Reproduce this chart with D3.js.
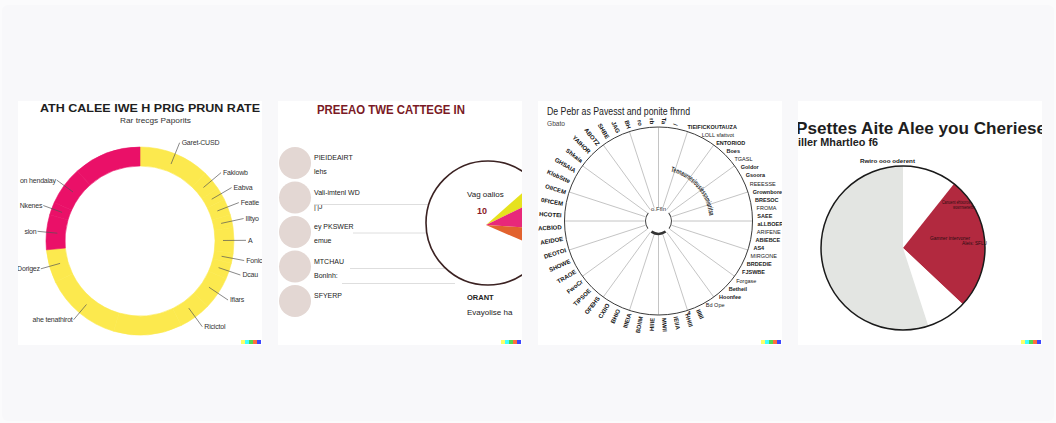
<!DOCTYPE html>
<html><head><meta charset="utf-8">
<script src="https://cdn.jsdelivr.net/npm/d3@7"></script>
<style>
html,body{margin:0;padding:0;background:#fbfbfc;}
svg{display:block;font-family:"Liberation Sans",Arial,sans-serif;}
</style></head><body>
<svg id="chart" width="1056" height="423"></svg>
<script>
// ---- Card 1: ring chart ----
const ringTitle = "ATH CALEE IWE H PRIG PRUN RATE";
const ringSubtitle = "Rar trecgs Paporits";
const ringLabels = ["Garet-CUSD","Fakiowb","Eabva","Featie","Illtyo","A","Fonic","Dcau","Ifiars","Ricictol","","ahe tenathirot","Dorigez","sion","Nkenes","on hendaiay",""];
const ringValues = [12.2,3.3,2.2,2.8,2.2,4.4,1.7,2.8,5.6,5.6,11.7,13.3,5.7,6.0,2.2,6.7,11.6];
const ringGroups = ["Orvan","Orvan","Orvan","Orvan","Orvan","Orvan","Orvan","Orvan","Orvan","Orvan","Orvan","Orvan","Orvan","Haeli","Haeli","Haeli","Haeli"];
const ringGroupNames = ["Haeli","Orvan"];

// ---- Card 2: category list with wedge callout ----
const listTitle = "PREEAO TWE CATTEGE IN";
const listNames = ["PIEIDEAIRT","Vali-imtenl WD","ey PKSWER","MTCHAU","SFYERP"];
const listNotes = ["lehs","|'|J","emue","Bonlnh:",""];
const wedgeNames = ["Vaga","Pinka","Oranta"];
const wedgeValues = [4.3, 8.2, 5.5];
const calloutName = "Vag oalios";
const calloutValue = "10";
const footName = "ORANT";
const footNote = "Evayolise  ha";

// ---- Card 3: radial chart ----
const radialTitle = "De Pebr as Pavesst and ponite fhrnd";
const radialSubtitle = "Gbato";
const radialHub = "o.Ffln";
const radialArcText = "Tennaurnesiousiessnmioritsa";
// horizontal labels down the right-hand side
const sideLabels = ["TIEIFICKOUTAUZA","LOLL sfattvot","ENTORIOD","Boes","TGASL","Goldor","Gsoora","REEESSE",
  "Grownbore","BRESOC","FROMA","SAEE","aLLBOER","ARIFENE","ABIEBCE","AS4","MIRGONE","BRDEDIE",
  "FJSWBE","Forgase","Betheil","Hoonfee","Bd Ope","4"];
// rotated labels round the rest of the rim
const rimLabels = ["IIIIIl","HHIII","IEIIA","MWII","HIIIE","BDIIM","IIIEIA","BHIO","CXIIO","OFEHS",
  "TIPSOE","FwoCr","TRAOE","SHOWE","DEOTOI","AEIDOE","ACBIOD","HCOTEI","0FtCEM","OIICEM",
  "KlobStte","GHSAIA","Shkaia","YAIHOR","ABOTZ","SHBE","JAG","BH","ro","rb","Ta","/"];

// ---- Card 4: pie chart ----
const pieTitle = "Psettes Aite Alee you Cheriese";
const pieSubtitle = "iller Mhartleo f6";
const pieHeader = "Rwiro ooo   oderent";
const pieNames = ["Rwiro","Canuent","Gamner","Mhartleo"];
const pieValues = [10.7, 26.3, 8.0, 55.0];
const pieNotesA = ["Canuent ehtxoros","wosrrnsenerbu"];
const pieNotesB = ["Gamner intervoner","Aleis: SFLU"];

const signatureColors = ["#ffff66","#42ffff","#51da4c","#ff6e3c","#3c46ff"];

// ---------------------------------------------------------------
const W = 1056, H = 423, cardSize = 244;
const svg = d3.select("#chart");
svg.append("rect").attr("width", W).attr("height", H).attr("fill", "#fbfbfc");
svg.append("rect").attr("x", 2).attr("y", 5).attr("width", W - 4).attr("height", H - 7)
  .attr("rx", 6).attr("fill", "#f8f8fa");

function card(i) {
  const id = "clip" + i;
  svg.append("clipPath").attr("id", id).append("rect").attr("width", cardSize).attr("height", cardSize);
  const g = svg.append("g").attr("transform", `translate(${18 + i * 260},101)`);
  g.append("rect").attr("width", cardSize).attr("height", cardSize).attr("fill", "#fff");
  const inner = g.append("g").attr("clip-path", `url(#${id})`);
  g.selectAll("rect.sig").data(signatureColors).join("rect").attr("class", "sig")
    .attr("x", (d, k) => 223 + k * 4).attr("y", 239).attr("width", 4).attr("height", 4).attr("fill", d => d);
  return inner;
}

function text(sel, s, x, y, o = {}) {
  const t = sel.append("text").attr("x", x).attr("y", y).text(s)
    .attr("font-size", o.size || 7).attr("fill", o.fill || "#222")
    .attr("font-weight", o.weight || "normal")
    .attr("text-anchor", o.anchor || "start");
  if (o.family) t.attr("font-family", o.family);
  if (o.len) t.attr("textLength", o.len).attr("lengthAdjust", "spacingAndGlyphs");
  if (o.dy) t.attr("dy", o.dy);
  return t;
}

// ---------------- Card 1 ----------------
{
  const g = card(0);
  text(g, ringTitle, 22, 11, {size: 11.5, weight: "bold", fill: "#1e1e1e", len: 220});
  text(g, ringSubtitle, 102, 21.5, {size: 7, fill: "#333", len: 71});

  const c = g.append("g").attr("transform", "translate(122,140)");
  const color = d3.scaleOrdinal().domain(ringGroupNames).range(["#ea1068", "#fce94e"]);
  const pie = d3.pie().sort(null).value(d => d.value);
  const arcs = pie(ringLabels.map((l, i) => ({label: l, value: ringValues[i], group: ringGroups[i]})));
  const arc = d3.arc().innerRadius(75).outerRadius(94);
  c.selectAll("path.seg").data(arcs).join("path").attr("class", "seg")
    .attr("d", arc).attr("fill", d => color(d.data.group))
    .attr("stroke", d => color(d.data.group)).attr("stroke-width", 0.6);

  const labelled = arcs.filter(d => d.data.label);
  const mid = d => (d.startAngle + d.endAngle) / 2;
  const pt = (a, r) => [Math.sin(a) * r, -Math.cos(a) * r];
  const rEnd = d => mid(d) < Math.PI ? 106 : 103;
  c.selectAll("line.lead").data(labelled).join("line").attr("class", "lead")
    .attr("x1", d => pt(mid(d), 83)[0]).attr("y1", d => pt(mid(d), 83)[1])
    .attr("x2", d => pt(mid(d), rEnd(d))[0]).attr("y2", d => pt(mid(d), rEnd(d))[1])
    .attr("stroke", "#555").attr("stroke-width", 0.7);
  c.selectAll("text.lab").data(labelled).join("text").attr("class", "lab")
    .attr("x", d => pt(mid(d), rEnd(d))[0] + (mid(d) < Math.PI ? 2 : -1))
    .attr("y", d => pt(mid(d), rEnd(d))[1]).attr("dy", "0.35em")
    .attr("text-anchor", d => mid(d) < Math.PI ? "start" : "end")
    .attr("font-size", 7).attr("letter-spacing", -0.2).attr("fill", "#333").text(d => d.data.label);
}

// ---------------- Card 2 ----------------
{
  const g = card(1);
  text(g, listTitle, 39, 13, {size: 12, weight: "bold", fill: "#7a1a25", len: 148});
  const rowY = d3.scaleLinear().domain([0, 4]).range([62, 200]);
  g.selectAll("circle.dot").data(listNames).join("circle").attr("class", "dot")
    .attr("cx", 17).attr("cy", (d, i) => rowY(i)).attr("r", 16).attr("fill", "#e3d7d3");
  listNames.forEach((n, i) => {
    text(g, n, 36, rowY(i) - 3, {size: 7, fill: "#222"});
    if (listNotes[i]) text(g, listNotes[i], 36, rowY(i) + 11, {size: 7, fill: "#222"});
  });

  const cx = 210, cy = 122, R = 62;
  const edge = y => cx - Math.sqrt(Math.max(0, R * R - (y - cy) * (y - cy)));
  const rules = [[rowY(1) + 7, 36, edge(rowY(1) + 7)], [rowY(2) + 1, 75, edge(rowY(2) + 1)],
                 [rowY(3) + 2, 72, edge(rowY(3) + 2)], [rowY(3) + 17, 64, 177]];
  g.selectAll("line.rule").data(rules).join("line").attr("class", "rule")
    .attr("x1", d => d[1]).attr("x2", d => d[2])
    .attr("y1", d => d[0]).attr("y2", d => d[0]).attr("stroke", "#dedede").attr("stroke-width", 1);

  const ang = d3.scaleLinear().domain([0, 100]).range([0, 2 * Math.PI]);
  const start = 13.5;
  const cum = d3.cumsum([start, ...wedgeValues]);
  const wedgeColor = d3.scaleOrdinal().domain(wedgeNames).range(["#e6e21e", "#e8287a", "#e2622e"]);
  const warc = d3.arc().innerRadius(0).outerRadius(R);
  g.append("g").attr("transform", `translate(${cx - 2},${cy + 2})`)
    .selectAll("path").data(wedgeNames).join("path")
    .attr("d", (d, i) => warc({startAngle: ang(cum[i]), endAngle: ang(cum[i + 1])}))
    .attr("fill", d => wedgeColor(d));
  g.append("circle").attr("cx", cx).attr("cy", cy).attr("r", R)
    .attr("fill", "none").attr("stroke", "#3b2222").attr("stroke-width", 1.6);

  text(g, calloutName, 189, 96, {size: 8, fill: "#222"});
  text(g, calloutValue, 199, 113, {size: 9, weight: "bold", fill: "#8a1a28"});
  text(g, footName, 189, 199, {size: 7.5, weight: "bold", fill: "#222"});
  text(g, footNote, 189, 214, {size: 8, fill: "#222"});
}

// ---------------- Card 3 ----------------
{
  const g = card(2);
  text(g, radialTitle, 9, 14, {size: 10, fill: "#222", len: 143});
  text(g, radialSubtitle, 9, 25, {size: 7, fill: "#444", len: 18});
  const R = 94, cx = 120.5, cy = 120;
  const c = g.append("g").attr("transform", `translate(${cx},${cy})`);
  const pt = (a, r) => [Math.sin(a) * r, -Math.cos(a) * r];

  const spokes = d3.range(20).map(i => i / 20 * 2 * Math.PI);
  c.selectAll("line.spoke").data(spokes).join("line").attr("class", "spoke")
    .attr("x1", a => pt(a, 14)[0]).attr("y1", a => pt(a, 14)[1])
    .attr("x2", a => pt(a, R)[0]).attr("y2", a => pt(a, R)[1])
    .attr("stroke", "#b5b5b5").attr("stroke-width", 0.8);
  c.append("circle").attr("r", R).attr("fill", "none").attr("stroke", "#3a3a3a").attr("stroke-width", 1);

  // hub
  c.append("circle").attr("r", 13).attr("fill", "#fff");
  const hubArc = d3.arc().innerRadius(12.5).outerRadius(13.5);
  [[-2.2, -0.9], [0.9, 2.2]].forEach(s => c.append("path")
    .attr("d", hubArc({startAngle: s[0], endAngle: s[1]})).attr("fill", "#444"));
  c.append("path").attr("d", d3.arc().innerRadius(11.5).outerRadius(14)({startAngle: 2.55, endAngle: 3.73}))
    .attr("fill", "#333");
  text(c, radialHub, 0, -10, {size: 6, fill: "#333", anchor: "middle"});

  // curved caption
  const a0 = 14 * Math.PI / 180, a1 = 84 * Math.PI / 180, ra = 51;
  const p0 = pt(a0, ra), p1 = pt(a1, ra);
  c.append("path").attr("id", "capArc").attr("fill", "none")
    .attr("d", `M${p0[0]},${p0[1]} A${ra},${ra} 0 0 1 ${p1[0]},${p1[1]}`);
  c.append("text").attr("font-size", 7.5).attr("font-weight", "bold").attr("fill", "#2a2a2a")
    .append("textPath").attr("href", "#capArc").attr("textLength", ra * (a1 - a0))
    .attr("lengthAdjust", "spacingAndGlyphs").text(radialArcText);

  // right-hand labels, evenly spaced down the rim
  const sideY = d3.scalePoint().domain(sideLabels).range([26, 212]);
  const rimX = y => Math.sqrt(Math.max(0, R * R - (y - cy) * (y - cy)));
  c.selectAll("text.side").data(sideLabels).join("text").attr("class", "side")
    .attr("x", d => Math.max(rimX(sideY(d)) + 5, 29)).attr("y", d => sideY(d) - cy).attr("dy", "0.35em")
    .attr("font-size", 5.5).attr("fill", "#1a1a1a")
    .attr("font-weight", (d, i) => i % 3 === 1 ? "normal" : "bold")
    .text(d => d);

  // rotated labels round the remaining rim
  const rimAng = d3.scaleLinear().domain([0, rimLabels.length - 1])
    .range([156 * Math.PI / 180, 370 * Math.PI / 180]);
  c.selectAll("text.rim").data(rimLabels).join("text").attr("class", "rim")
    .attr("font-size", 6).attr("font-weight", "bold").attr("fill", "#111")
    .attr("dy", "0.35em")
    .attr("text-anchor", (d, i) => rimAng(i) > Math.PI ? "end" : "start")
    .attr("transform", (d, i) => {
      const a = rimAng(i), deg = a * 180 / Math.PI, p = pt(a, R + 3);
      return `translate(${p[0]},${p[1]}) rotate(${a > Math.PI ? deg + 90 : deg - 90})`;
    })
    .text(d => d);
}

// ---------------- Card 4 ----------------
{
  const g = card(3);
  text(g, pieTitle, -2, 33, {size: 17, weight: "bold", fill: "#1e1e1e", len: 250});
  text(g, pieSubtitle, 0, 45, {size: 11, weight: "bold", fill: "#222", len: 80});
  text(g, pieHeader, 62, 62, {size: 6, weight: "bold", fill: "#222", len: 55});

  const color = d3.scaleOrdinal().domain(pieNames).range(["#ffffff", "#b2293f", "#ffffff", "#e3e5e2"]);
  const pie = d3.pie().sort(null).value(d => d);
  const arcs = pie(pieValues);
  const R = 82;
  const c = g.append("g").attr("transform", "translate(105,147)");
  c.selectAll("path").data(arcs).join("path")
    .attr("d", d3.arc().innerRadius(0).outerRadius(R)).attr("fill", (d, i) => color(pieNames[i]));
  c.append("circle").attr("r", R).attr("fill", "none").attr("stroke", "#1a1a1a").attr("stroke-width", 1.5);

  text(g, pieNotesA[0], 144, 103, {size: 4.5, fill: "#2a0d12", len: 28});
  text(g, pieNotesA[1], 155, 108, {size: 4.5, fill: "#2a0d12", len: 22});
  text(g, pieNotesB[0], 132, 139, {size: 4.5, fill: "#2a0d12", len: 40});
  text(g, pieNotesB[1], 164, 144, {size: 4.5, fill: "#2a0d12", len: 25});
}
</script></body></html>
